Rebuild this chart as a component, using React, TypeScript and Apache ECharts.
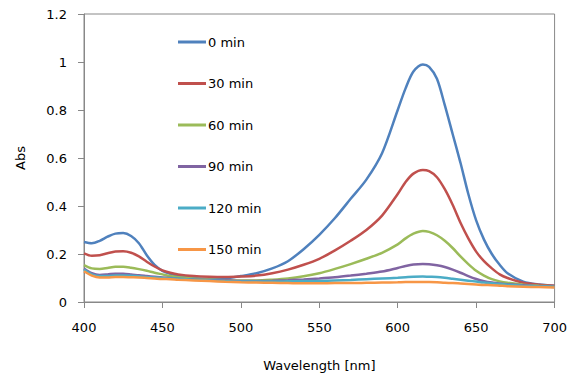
import React, { useEffect, useRef } from "react";
import * as echarts from "echarts";

const wavelengths = [400,405,410,415,420,425,430,435,440,445,450,455,460,470,480,490,500,510,520,530,540,550,560,570,580,590,600,605,610,616,620,625,630,635,640,645,650,655,660,665,670,680,690,700];

const seriesNames = ["0 min", "30 min", "60 min", "90 min", "120 min", "150 min"];

const abs0 = [0.25,0.245,0.255,0.272,0.285,0.287,0.275,0.245,0.195,0.155,0.13,0.118,0.11,0.1,0.096,0.098,0.108,0.12,0.14,0.17,0.22,0.28,0.35,0.43,0.51,0.62,0.80,0.89,0.96,0.99,0.98,0.93,0.82,0.70,0.58,0.45,0.34,0.26,0.20,0.155,0.12,0.085,0.073,0.068];
const abs30 = [0.203,0.193,0.195,0.203,0.21,0.211,0.205,0.19,0.168,0.148,0.132,0.122,0.115,0.108,0.105,0.104,0.106,0.11,0.12,0.135,0.155,0.18,0.215,0.255,0.30,0.36,0.45,0.50,0.535,0.55,0.545,0.52,0.47,0.405,0.33,0.265,0.21,0.17,0.14,0.115,0.10,0.08,0.072,0.068];
const abs60 = [0.154,0.14,0.138,0.142,0.147,0.147,0.143,0.137,0.13,0.122,0.115,0.108,0.103,0.097,0.094,0.091,0.09,0.09,0.093,0.098,0.107,0.12,0.138,0.158,0.18,0.205,0.24,0.265,0.285,0.296,0.292,0.278,0.255,0.225,0.19,0.158,0.13,0.11,0.095,0.086,0.08,0.072,0.068,0.065];
const abs90 = [0.14,0.12,0.113,0.115,0.118,0.118,0.115,0.111,0.108,0.105,0.102,0.1,0.097,0.094,0.092,0.09,0.088,0.088,0.089,0.091,0.094,0.098,0.103,0.11,0.118,0.127,0.142,0.15,0.156,0.158,0.157,0.153,0.146,0.135,0.122,0.108,0.096,0.087,0.081,0.077,0.074,0.07,0.066,0.064];
const abs120 = [0.135,0.115,0.108,0.108,0.11,0.11,0.109,0.107,0.104,0.102,0.1,0.098,0.097,0.093,0.09,0.087,0.085,0.085,0.085,0.086,0.087,0.088,0.09,0.092,0.095,0.098,0.101,0.103,0.105,0.106,0.105,0.104,0.101,0.097,0.093,0.089,0.085,0.081,0.078,0.075,0.072,0.068,0.065,0.063];
const abs150 = [0.128,0.11,0.102,0.102,0.104,0.104,0.103,0.102,0.1,0.098,0.096,0.095,0.093,0.09,0.087,0.084,0.082,0.081,0.08,0.079,0.078,0.078,0.079,0.079,0.08,0.081,0.082,0.083,0.083,0.083,0.083,0.082,0.08,0.079,0.077,0.075,0.073,0.071,0.07,0.068,0.066,0.064,0.062,0.06];

const allValues = [abs0, abs30, abs60, abs90, abs120, abs150];
const colors = ["#4F81BD", "#C0504D", "#9BBB59", "#8064A2", "#4BACC6", "#F79646"];

export default function App() {
  const ref = useRef<HTMLDivElement>(null);
  useEffect(() => {
    if (!ref.current) return;
    const chart = echarts.init(ref.current, null, { renderer: "svg" });
    const font = "DejaVu Sans";
    chart.setOption({
      animation: false,
      color: colors,
      grid: {
        left: 84,
        right: 13,
        top: 14,
        bottom: 79,
        show: true,
        borderColor: "#888888",
        borderWidth: 1,
      },
      legend: {
        orient: "vertical",
        left: 178,
        top: 34,
        padding: 0,
        itemWidth: 28,
        itemHeight: 3,
        itemGap: 25.5,
        icon: "rect",
        textStyle: { fontFamily: font, fontSize: 13, fontWeight: "normal", color: "#000", lineHeight: 16, padding: [0, 0, 0, -3] },
        data: seriesNames,
      },
      xAxis: {
        type: "value",
        min: 400,
        max: 700,
        interval: 50,
        name: "Wavelength [nm]",
        nameLocation: "middle",
        nameGap: 57,
        nameTextStyle: { fontFamily: font, fontSize: 13, color: "#000" },
        axisLine: { lineStyle: { color: "#888888" } },
        axisTick: { show: true, inside: false, length: 6, lineStyle: { color: "#888888" } },
        axisLabel: { fontFamily: font, fontSize: 13, color: "#000", margin: 19 },
        splitLine: { show: false },
      },
      yAxis: {
        type: "value",
        min: 0,
        max: 1.2,
        interval: 0.2,
        name: "Abs",
        nameLocation: "middle",
        nameGap: 57,
        nameTextStyle: { fontFamily: font, fontSize: 13, color: "#000" },
        axisLine: { show: true, lineStyle: { color: "#888888" } },
        axisTick: { show: true, inside: false, length: 6, lineStyle: { color: "#888888" } },
        axisLabel: { fontFamily: font, fontSize: 13, color: "#000", margin: 17 },
        splitLine: { show: false },
      },
      series: seriesNames.map((name, i) => ({
        name,
        type: "line",
        smooth: 0.3,
        showSymbol: false,
        symbol: "none",
        lineStyle: { width: 2.5, color: colors[i] },
        itemStyle: { color: colors[i] },
        data: wavelengths.map((w, j) => [w, allValues[i][j]]),
      })),
    });
    return () => chart.dispose();
  }, []);
  return <div ref={ref} style={{ width: 570, height: 381, position: "absolute", left: 0, top: 0 }} />;
}
